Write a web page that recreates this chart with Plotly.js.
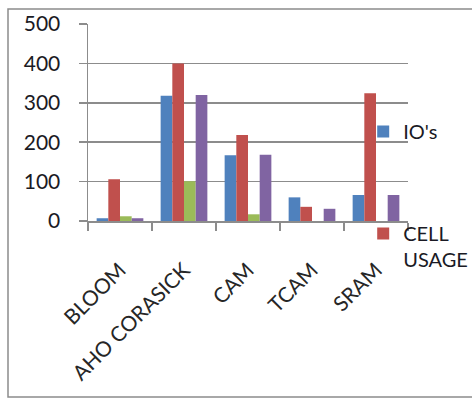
<!DOCTYPE html>
<html>
<head>
<meta charset="utf-8">
<script src="https://cdn.plot.ly/plotly-3.0.1.min.js"></script>
<style>html,body{margin:0;padding:0;background:#fff;}#chart{width:472px;height:406px;}</style>
</head>
<body>
<div id="chart"></div>
<script>
const categories = ["BLOOM", "AHO CORASICK", "CAM", "TCAM", "SRAM"];
const ios = [7, 318, 167, 60, 66];
const cellUsage = [106, 400, 218, 36, 324];
const series3 = [12, 101, 17, 0, 0];
const series4 = [7, 320, 168, 31, 66];

const colors = {blue: "#4F81BD", red: "#C0504D", green: "#9BBB59", purple: "#8064A2"};
const FONT = "Lato, 'Open Sans', sans-serif";

const traces = [
  {type: "bar", x: categories, y: ios, name: "IO's", marker: {color: colors.blue}, legend: "legend"},
  {type: "bar", x: categories, y: cellUsage, name: "CELL<br>USAGE", marker: {color: colors.red}, legend: "legend2"},
  {type: "bar", x: categories, y: series3, name: "Series3", marker: {color: colors.green}, showlegend: false},
  {type: "bar", x: categories, y: series4, name: "Series4", marker: {color: colors.purple}, showlegend: false}
];

const layout = {
  width: 472, height: 406,
  margin: {l: 88, r: 64, t: 24, b: 185, pad: 0, autoexpand: false},
  paper_bgcolor: "#fff", plot_bgcolor: "#fff",
  barmode: "group", bargap: 0.27, bargroupgap: 0,
  font: {family: FONT, color: "#222"},
  xaxis: {
    type: "category", tickangle: -45, tickson: "boundaries",
    ticks: "outside", ticklen: 8, tickcolor: "#8c8c8c", tickwidth: 1.5,
    showline: true, linecolor: "#8c8c8c", linewidth: 1.5,
    showgrid: false, ticklabelstandoff: 27, automargin: false,
    tickfont: {family: FONT, size: 21, color: "#262626"}
  },
  yaxis: {
    range: [0, 500], dtick: 100, tick0: 0,
    ticks: "outside", ticklen: 8, tickcolor: "#8c8c8c", tickwidth: 1.5,
    showline: true, linecolor: "#8c8c8c", linewidth: 1.5,
    showgrid: true, gridcolor: "#8c8c8c", gridwidth: 1.5,
    zeroline: false, ticklabelstandoff: 14, automargin: false,
    tickfont: {family: FONT, size: 21, color: "#1a1a24"}
  },
  legend: {
    x: 0.86, y: (221 - 112) / 197, xanchor: "left", yanchor: "top",
    bgcolor: "rgba(0,0,0,0)", font: {family: FONT, size: 20, color: "#1a1a24"},
    itemwidth: 30, tracegroupgap: 0, valign: "top"
  },
  legend2: {
    x: 0.86, y: (221 - 214) / 197, xanchor: "left", yanchor: "top",
    bgcolor: "rgba(0,0,0,0)", font: {family: FONT, size: 20, color: "#1a1a24"},
    itemwidth: 30, tracegroupgap: 0, valign: "top"
  },
  shapes: [{
    type: "rect", xref: "paper", yref: "paper",
    x0: (8 - 88) / 320, x1: (480 - 88) / 320,
    y0: (221 - 397) / 197, y1: (221 - 9) / 197,
    line: {color: "#8c8c8c", width: 1.5}, fillcolor: "rgba(0,0,0,0)", layer: "below"
  }]
};

Plotly.newPlot("chart", traces, layout, {displayModeBar: false, staticPlot: true});
</script>
</body>
</html>
